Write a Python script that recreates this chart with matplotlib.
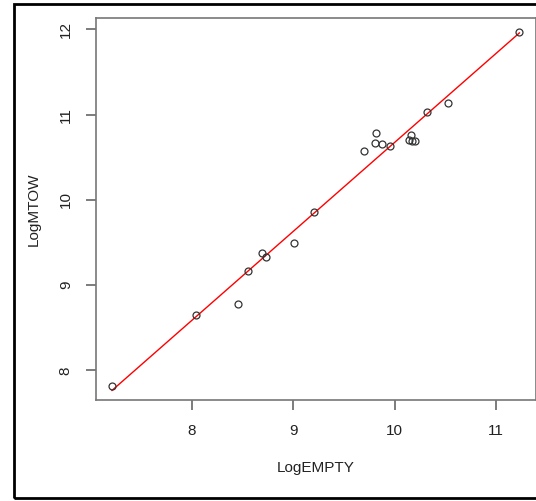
import numpy as np
import matplotlib
matplotlib.use('Agg')
import matplotlib.pyplot as plt
from matplotlib.patches import Rectangle

plt.rcParams['font.family'] = ['Liberation Sans', 'DejaVu Sans']

# values
log_empty = [7.213, 8.042, 8.455, 8.557, 8.688, 8.728, 9.003, 9.203, 9.701, 9.812,
             9.809, 9.874, 9.953, 10.159, 10.140, 10.169, 10.196, 10.321, 10.527, 11.23]
log_mtow = [7.82, 8.653, 8.785, 9.169, 9.375, 9.333, 9.492, 9.860, 10.579, 10.790,
            10.669, 10.661, 10.634, 10.758, 10.708, 10.696, 10.693, 11.036, 11.138, 11.97]
x_ticks = [8, 9, 10, 11]
y_ticks = [8, 9, 10, 11, 12]

x = np.array(log_empty)
y = np.array(log_mtow)

# least squares fit, drawn over the range of the data
slope, icpt = np.polyfit(x, y, 1)
xs = np.array([x.min(), x.max()])

W, H = 536, 501
fig = plt.figure(figsize=(W / 100, H / 100), dpi=100)
ax = fig.add_axes([95.7 / W, 1 - 400 / H, (535.7 - 95.7) / W, (400 - 17.7) / H])

ax.plot(xs, icpt + slope * xs, color='red', lw=1.0, zorder=2)
ax.plot(x, y, 'o', mfc='none', mec='#333333', ms=5, mew=0.9, zorder=3)

# R style axis limits (4% padding)
def r_lim(v):
    pad = (v.max() - v.min()) * 0.04
    return v.min() - pad, v.max() + pad

ax.set_xlim(*r_lim(x))
ax.set_ylim(*r_lim(y))
ax.set_xticks(x_ticks)
ax.set_yticks(y_ticks)

for s in ax.spines.values():
    s.set_color('#777777')
    s.set_linewidth(1.2)

ax.tick_params(axis='both', direction='out', length=7.5, width=1.2, color='#666666',
               labelsize=11, labelcolor='#222222')
ax.tick_params(axis='x', pad=10)
ax.tick_params(axis='y', pad=9)
for lab in ax.get_yticklabels():
    lab.set_rotation(90)
    lab.set_va('center')

ax.set_xlabel('LogEMPTY', fontsize=11, color='#222222', labelpad=16)
ax.set_ylabel('LogMTOW', fontsize=11, color='#222222', labelpad=13)

# outer black frame of the screenshot
fig.add_artist(Rectangle((14 / W, 3 / H), 1.0, (498 - 4) / H, transform=fig.transFigure,
                         fill=False, edgecolor='black', lw=2, clip_on=False))

fig.savefig('out.png', dpi=100)
